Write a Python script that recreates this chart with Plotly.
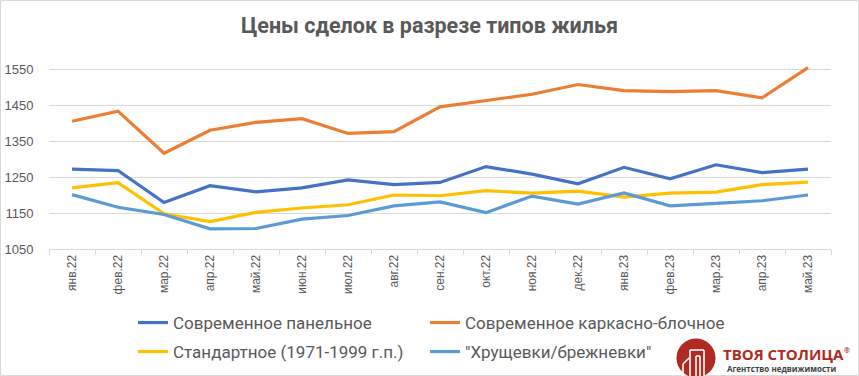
import plotly.graph_objects as go

months = ["янв.22", "фев.22", "мар.22", "апр.22", "май.22", "июн.22", "июл.22", "авг.22",
          "сен.22", "окт.22", "ноя.22", "дек.22", "янв.23", "фев.23", "мар.23", "апр.23", "май.23"]

panel = [1272, 1268, 1179, 1226, 1209, 1220, 1242, 1229, 1235, 1279, 1258, 1231, 1277, 1245, 1284, 1262, 1272]
frame_block = [1405, 1433, 1316, 1380, 1402, 1412, 1371, 1376, 1445, 1463, 1480, 1507, 1490, 1487, 1490, 1470, 1554]
standard = [1220, 1234, 1148, 1126, 1152, 1164, 1173, 1200, 1198, 1212, 1205, 1211, 1194, 1205, 1208, 1229, 1236]
khrush = [1201, 1166, 1146, 1106, 1107, 1133, 1143, 1170, 1181, 1151, 1197, 1175, 1206, 1170, 1177, 1184, 1200]

names = ["Современное панельное", "Современное каркасно-блочное",
         "Стандартное (1971-1999 г.п.)", "\"Хрущевки/брежневки\""]
colors = ["#4472C4", "#ED7D31", "#FFC000", "#5B9BD5"]
series = [panel, frame_block, standard, khrush]
legends = ["legend", "legend2", "legend3", "legend4"]

W, H = 859, 376
L, R, T, B = 49, 28, 64, 127
PW, PH = W - L - R, H - T - B

def px(x):
    return (x - L) / PW

def py(y):
    return (H - B - y) / PH

fig = go.Figure()
for name, vals, c, lg in zip(names, series, colors, legends):
    fig.add_trace(go.Scatter(x=months, y=vals, name=name, mode="lines",
                             line=dict(color=c, width=3.2), legend=lg))

font_main = "Roboto, sans-serif"
grey = "#595959"

def leg(xp, yp):
    return dict(orientation="h", x=px(xp), y=py(yp), xanchor="left", yanchor="middle",
                bgcolor="rgba(0,0,0,0)", font=dict(family=font_main, size=17, color=grey),
                itemwidth=30, tracegroupgap=0, borderwidth=0)

fig.update_layout(
    width=W, height=H,
    margin=dict(l=L, r=R, t=T, b=B, autoexpand=False),
    paper_bgcolor="white", plot_bgcolor="white",
    title=dict(text="<b>Цены сделок в разрезе типов жилья</b>", x=0.5, xanchor="center",
               y=1 - 25 / H, yanchor="middle",
               font=dict(family=font_main, size=21.5, color=grey)),
    xaxis=dict(type="category", tickson="boundaries", ticks="outside", ticklen=5,
               tickcolor="#D9D9D9", showline=True, linecolor="#D9D9D9", linewidth=1,
               showgrid=False, tickangle=-90, automargin=False,
               tickfont=dict(family="Liberation Sans, Arial, sans-serif", size=12, color=grey),
               range=[-0.5, 16.5]),
    yaxis=dict(range=[1050, 1564], tick0=1050, dtick=100, showgrid=True,
               gridcolor="#D9D9D9", gridwidth=1, zeroline=False, showline=False,
               ticks="outside", ticklen=12, tickcolor="rgba(0,0,0,0)", automargin=False,
               tickfont=dict(family="Liberation Sans, Arial, sans-serif", size=13, color=grey)),
    legend=leg(133, 323),
    legend2=leg(425, 323),
    legend3=leg(133, 352),
    legend4=leg(425, 352),
    showlegend=True,
)

shapes = []
# outer border
shapes.append(dict(type="rect", xref="paper", yref="paper", x0=px(0.5), x1=px(W - 0.5),
                   y0=py(H - 0.5), y1=py(0.5), line=dict(color="#D9D9D9", width=1),
                   fillcolor="rgba(0,0,0,0)", layer="below"))
# logo circle
cx, cy, r = 696, 358, 19.5
shapes.append(dict(type="circle", xref="paper", yref="paper", x0=px(cx - r), x1=px(cx + r),
                   y0=py(cy + r), y1=py(cy - r), fillcolor="#B02A22", line=dict(width=0)))
# building lines inside logo
for (x0, y0, x1, y1) in [(690, 376, 690, 350), (690, 350, 704, 350), (704, 350, 704, 376),
                         (696, 376, 696, 356), (696, 356, 700, 356), (700, 356, 700, 376),
                         (683, 376, 683, 364), (683, 364, 689, 358)]:
    shapes.append(dict(type="line", xref="paper", yref="paper", x0=px(x0), x1=px(x1),
                       y0=py(y0), y1=py(y1), line=dict(color="white", width=1.6)))
fig.update_layout(shapes=shapes)

fig.add_annotation(text="<b>ТВОЯ СТОЛИЦА</b>", xref="paper", yref="paper", x=px(721), y=py(354),
                   xanchor="left", yanchor="middle", showarrow=False,
                   font=dict(family="Open Sans, sans-serif", size=15, color="#B02A22"))
fig.add_annotation(text="<b>®</b>", xref="paper", yref="paper", x=px(842), y=py(350),
                   xanchor="left", yanchor="middle", showarrow=False,
                   font=dict(family="Open Sans, sans-serif", size=7, color="#B02A22"))
fig.add_annotation(text="<b>Агентство недвижимости</b>", xref="paper", yref="paper", x=px(725), y=py(368),
                   xanchor="left", yanchor="middle", showarrow=False,
                   font=dict(family="Open Sans, sans-serif", size=8, color="#404040"))

fig.write_html("out.html", config={"displayModeBar": False},
               post_script="document.body.style.margin='0';")
